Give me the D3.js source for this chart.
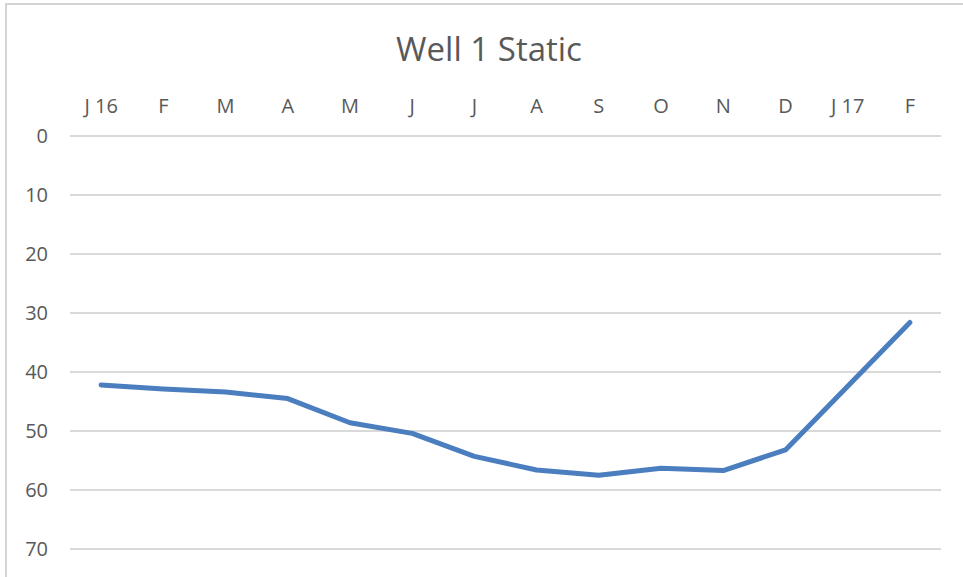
<!DOCTYPE html>
<html>
<head>
<meta charset="utf-8">
<script src="https://cdn.jsdelivr.net/npm/d3@7"></script>
<style>
  html, body { margin: 0; padding: 0; background: #fff; }
  svg { display: block; }
  text { font-family: "Open Sans", sans-serif; fill: #595959; }
</style>
</head>
<body>
<script>
// Static water level readings, one per month (depth, so the axis runs downward)
const months = ["J 16", "F", "M", "A", "M", "J", "J", "A", "S", "O", "N", "D", "J 17", "F"];
const staticLevel = [42.2, 42.9, 43.4, 44.5, 48.6, 50.4, 54.3, 56.6, 57.5, 56.3, 56.7, 53.2, 42.4, 31.6];
const yTicks = [0, 10, 20, 30, 40, 50, 60, 70];
const title = "Well 1 Static";

const W = 963, H = 577;
const svg = d3.select("body").append("svg").attr("width", W).attr("height", H);

// chart frame
svg.append("rect")
  .attr("x", 6).attr("y", 4)
  .attr("width", W + 20).attr("height", H + 20)
  .attr("fill", "#fff").attr("stroke", "#d4d4d4").attr("stroke-width", 2);

const x = d3.scaleBand()
  .domain(d3.range(months.length))
  .range([70, 941])
  .paddingInner(0).paddingOuter(0);

const y = d3.scaleLinear().domain([0, 70]).range([136, 549]);

// title
svg.append("text")
  .attr("x", 489).attr("y", 61)
  .attr("text-anchor", "middle")
  .style("font-size", "33px")
  .text(title);

// horizontal gridlines
svg.append("g")
  .selectAll("line")
  .data(yTicks)
  .join("line")
  .attr("x1", 70).attr("x2", 941)
  .attr("y1", d => y(d)).attr("y2", d => y(d))
  .attr("stroke", "#d9d9d9").attr("stroke-width", 2);

// y axis labels
const yAxis = d3.axisLeft(y).tickValues(yTicks).tickSize(0).tickPadding(0);
const gy = svg.append("g").attr("transform", "translate(48,0)").call(yAxis);
gy.select(".domain").remove();
gy.selectAll("text")
  .style("font-size", "20px")
  .style("font-family", "'Open Sans', sans-serif")
  .attr("fill", "#595959");

// month labels along the top
const xAxis = d3.axisTop(x).tickFormat(i => months[i]).tickSize(0).tickPadding(0);
const gx = svg.append("g").attr("transform", "translate(0,113)").call(xAxis);
gx.select(".domain").remove();
gx.selectAll("text")
  .attr("dy", 0)
  .style("font-size", "20px")
  .style("font-family", "'Open Sans', sans-serif")
  .attr("fill", "#595959");

// level line
const line = d3.line()
  .x((d, i) => x(i) + x.bandwidth() / 2)
  .y(d => y(d));

svg.append("path")
  .datum(staticLevel)
  .attr("d", line)
  .attr("fill", "none")
  .attr("stroke", "#4A7EBF")
  .attr("stroke-width", 5)
  .attr("stroke-linejoin", "round")
  .attr("stroke-linecap", "round");
</script>
</body>
</html>
